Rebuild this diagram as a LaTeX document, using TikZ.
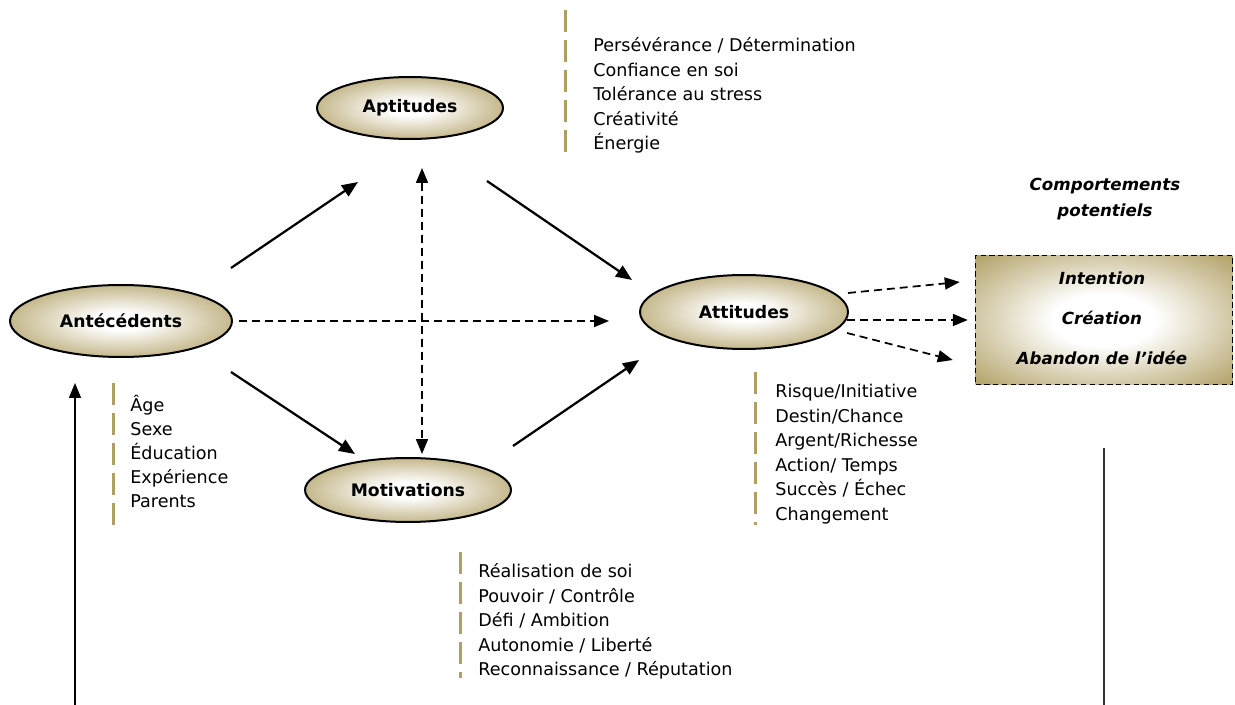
\documentclass[tikz,border=0pt]{standalone}
\usepackage{fontspec}
\setmainfont{DejaVu Sans}
\usetikzlibrary{arrows.meta, shapes.geometric}
\definecolor{gold}{RGB}{176,158,98}
\pgfdeclareradialshading{goldglow}{\pgfpoint{0bp}{0bp}}{color(0bp)=(white); color(6bp)=(white); color(32bp)=(gold); color(50bp)=(gold)}
\pgfdeclareradialshading{boxglow}{\pgfpoint{0bp}{0bp}}{color(0bp)=(white); color(10bp)=(white); color(36bp)=(gold); color(50bp)=(gold)}
\tikzset{bubble/.style={ellipse, draw, line width=0.04cm, shading=goldglow, inner sep=0pt, font=\fontsize{9.8}{11}\selectfont\bfseries}}
\tikzset{solidarrow/.style={line width=0.045cm, -{Triangle[length=0.32cm, width=0.26cm]}}}
\tikzset{dasharrow/.style={line width=0.035cm, dash pattern=on 0.16cm off 0.1cm, -{Triangle[length=0.3cm, width=0.24cm]}}}
\tikzset{dashboth/.style={dasharrow, {Triangle[length=0.3cm, width=0.24cm]}-{Triangle[length=0.3cm, width=0.24cm]}}}
\tikzset{listbar/.style={gold, line width=0.06cm, dash pattern=on 0.44cm off 0.16cm}}
\tikzset{listitem/.style={anchor=base west, inner sep=0pt, font=\fontsize{10}{12}\selectfont}}
\tikzset{boxitem/.style={inner sep=0pt, font=\fontsize{9.5}{11}\selectfont\bfseries\itshape}}

\begin{document}
\begin{tikzpicture}[x=0.02cm, y=-0.02cm]
    \useasboundingbox (0,0) rectangle (1235,705);
    % the four ellipses
    \node[bubble, minimum width=4.44cm, minimum height=1.44cm] (ante) at (121,321) {Antécédents};
    \node[bubble, minimum width=3.72cm, minimum height=1.24cm] (apti) at (410,108) {Aptitudes};
    \node[bubble, minimum width=4.12cm, minimum height=1.28cm] (moti) at (408,490) {Motivations};
    \node[bubble, minimum width=4.16cm, minimum height=1.48cm] (atti) at (744,312) {Attitudes};
    % potential behaviours
    \node[draw, line width=0.03cm, dash pattern=on 3pt off 2pt, shading=boxglow, minimum width=5.14cm, minimum height=2.58cm, inner sep=0pt] (potent) at (1104,320) {};
    \node[boxitem] (inten) at (1102,278) {Intention};
    \node[boxitem] (creat) at (1102,318) {Création};
    \node[boxitem] (aband) at (1102,358) {Abandon de l’idée};
    \node[boxitem] (comp1) at (1105,186) {Comportements};
    \node[boxitem] (comp2) at (1105,212) {potentiels};
    % lists
    \draw[listbar] (565,10) -- (565,157);
    \foreach \entry [count=\i] in {Persévérance / Détermination, Confiance en soi, Tolérance au stress, Créativité, Énergie} {
        \node[listitem] (apt-\i) at (593, {27.5+24.5*\i}) {\entry};
    }
    \draw[listbar] (113,383) -- (113,527);
    \foreach \entry [count=\i] in {Âge, Sexe, Éducation, Expérience, Parents} {
        \node[listitem] (ant-\i) at (130, {388+24*\i}) {\entry};
    }
    \draw[listbar] (755,372) -- (755,525);
    \foreach \entry [count=\i] in {Risque/Initiative, Destin/Chance, Argent/Richesse, Action/ Temps, Succès / Échec, Changement} {
        \node[listitem] (att-\i) at (775, {373.5+24.5*\i}) {\entry};
    }
    \draw[listbar] (460,552) -- (460,678);
    \foreach \entry [count=\i] in {Réalisation de soi, Pouvoir / Contrôle, Défi / Ambition, Autonomie / Liberté, Reconnaissance / Réputation} {
        \node[listitem] (mot-\i) at (478, {553.5+24.5*\i}) {\entry};
    }
    % connectors
    \draw[solidarrow] ([shift={(-2,-53)}]ante.east) -- ([shift={(-52,42)}]apti.south);
    \draw[solidarrow] ([shift={(-2,51)}]ante.east) -- ([shift={(-53,-3)}]moti.north);
    \coordinate (midline) at (atti.west |- ante.east);
    \draw[dasharrow] ([shift={(6,0)}]ante.east) -- ([shift={(-30,0)}]midline);
    \draw[dashboth] ([shift={(12,28)}]apti.south) -- ([shift={(14,-3)}]moti.north);
    \draw[solidarrow] ([shift={(77,41)}]apti.south) -- ([shift={(-7,-32)}]atti.west);
    \draw[solidarrow] ([shift={(105,-11)}]moti.north) -- ([shift={(0,48)}]atti.west);
    \draw[dasharrow] ([shift={(-1,-19)}]atti.east) -- ([shift={(-15,-38)}]potent.west);
    \draw[dasharrow] ([shift={(-2,8)}]atti.east) -- ([shift={(-7,0)}]potent.west);
    \draw[dasharrow] ([shift={(-2,21)}]atti.east) -- ([shift={(-22,40)}]potent.west);
    % side lines
    \coordinate (leftfoot) at (75,705);
    \coordinate (lefttop) at (75,383);
    \draw[line width=0.03cm, -{Triangle[length=0.3cm, width=0.24cm]}] (leftfoot) -- (lefttop);
    \coordinate (rightfoot) at (1104,705);
    \coordinate (righttop) at (1104,448);
    \draw[line width=0.035cm, black!80] (righttop) -- (rightfoot);
\end{tikzpicture}
\end{document}
